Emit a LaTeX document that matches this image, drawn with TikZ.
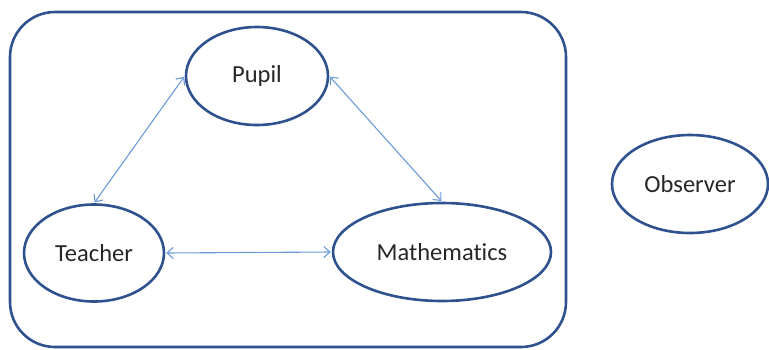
\documentclass[tikz,border=0pt]{standalone}
\usepackage{fontspec}
\setmainfont[Ligatures=NoCommon]{Carlito}
\usetikzlibrary{arrows.meta,shapes.geometric}
\definecolor{dblue}{HTML}{2F528F}
\definecolor{lblue}{HTML}{6A9BD8}
\tikzset{
  ell/.style={ellipse, draw=dblue, line width=2.6pt, inner sep=0pt, font=\fontsize{24.5}{28}\selectfont, text=black!85},
  link/.style={draw=lblue, line width=1.1pt, {Straight Barb[length=6pt,width=11pt]}-{Straight Barb[length=6pt,width=11pt]}, shorten <=1pt, shorten >=1pt}
}
\begin{document}
\begin{tikzpicture}[x=1pt,y=-1pt]
\useasboundingbox (0,0) rectangle (769,349);
\draw[dblue, line width=2.6pt, rounded corners=45pt] (10,12) rectangle (566,347);
\node[ell, minimum width=142pt, minimum height=98pt] (pupil) at (257,76) {Pupil};
\node[ell, minimum width=140pt, minimum height=97pt] (teacher) at (94,253) {Teacher};
\node[ell, minimum width=218pt, minimum height=98pt] (math) at (442,252) {Mathematics};
\node[ell, minimum width=156pt, minimum height=98pt] (obs) at (690,184) {Observer};
\draw[link] (pupil.west) -- (teacher.north);
\draw[link] (pupil.east) -- (math.north);
\draw[link] (teacher.east) -- (math.west);
\end{tikzpicture}
\end{document}
